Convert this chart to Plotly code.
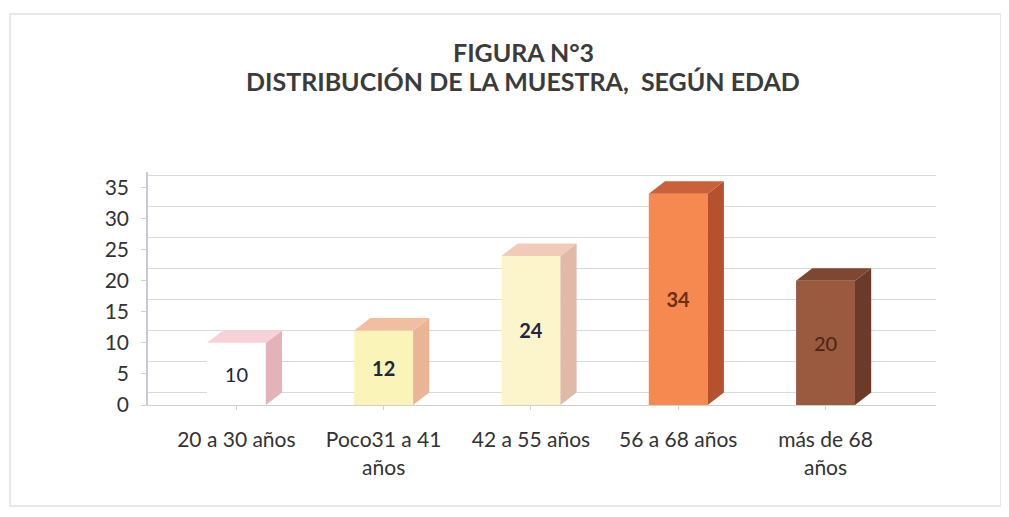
import plotly.graph_objects as go

title_lines = ["FIGURA N°3", "DISTRIBUCIÓN DE LA MUESTRA,  SEGÚN EDAD"]
categories = ["20 a 30 años", "Poco31 a 41 años", "42 a 55 años", "56 a 68 años", "más de 68 años"]
tick_labels = ["20 a 30 años", "Poco31 a 41<br>años", "42 a 55 años", "56 a 68 años", "más de 68<br>años"]
values = [10, 12, 24, 34, 20]
y_ticks = [0, 5, 10, 15, 20, 25, 30, 35]

front_colors = ["#ffffff", "#fbf4b8", "#fcf5cc", "#f5894f", "#9a5a40"]
top_colors = ["#f8d2d8", "#f2bea0", "#f1cbb8", "#c9623a", "#7f4632"]
side_colors = ["#e6b2ba", "#e9b596", "#e0b9a8", "#b5512d", "#6c3a28"]
text_colors = ["#1e2640", "#1e2640", "#1e2640", "#6a2f14", "#4a2414"]
text_tmpl = ["%{y}", "<b>%{y}</b>", "<b>%{y}</b>", "<b>%{y}</b>", "%{y}"]

W, H = 1009, 517
OFF = 8  # page body offset of the rendered figure
ML, MR, MT, MB = 140, 81, 164, 120
xr = [-0.6, 4.75]
yr = [0, 37.5]
bw = 0.4
dx, dy = 0.11, 2.0
grid_shift = 2.0

fig = go.Figure()
# invisible trace to activate the shifted back-wall grid axis
fig.add_trace(go.Scatter(x=[xr[0]], y=[0], yaxis="y2", mode="markers",
                         marker=dict(opacity=0), showlegend=False, hoverinfo="skip"))
fig.add_trace(go.Bar(
    x=list(range(len(categories))), y=values,
    width=bw,
    marker=dict(color=front_colors, line=dict(width=0)),
    texttemplate=text_tmpl, textposition="inside", insidetextanchor="middle",
    textfont=dict(family="Lato", size=20, color=text_colors),
    hovertext=categories, name="",
    showlegend=False,
))

shapes = []
for i, v in enumerate(values):
    xl, xrgt = i - bw / 2, i + bw / 2
    shapes.append(dict(
        type="path", xref="x", yref="y",
        path=f"M {xrgt},0 L {xrgt},{v} L {xrgt+dx},{v+dy} L {xrgt+dx},{dy} Z",
        fillcolor=side_colors[i], line=dict(width=0), layer="above"))
    shapes.append(dict(
        type="path", xref="x", yref="y",
        path=f"M {xl},{v} L {xrgt},{v} L {xrgt+dx},{v+dy} L {xl+dx},{v+dy} Z",
        fillcolor=top_colors[i], line=dict(width=0), layer="above"))

pw, ph = W - ML - MR, H - MT - MB
def px2x(p): return (p - OFF - ML) / pw
def py2y(p): return (H - MB - (p - OFF)) / ph
shapes.append(dict(type="rect", xref="paper", yref="paper",
                   x0=px2x(10), x1=px2x(1001), y0=py2y(506), y1=py2y(14),
                   line=dict(color="#e2e2e2", width=1.5), fillcolor="rgba(0,0,0,0)", layer="below"))

annotations = [
    dict(text=f"<b>{title_lines[0]}</b>", xref="paper", yref="paper", x=px2x(523), y=py2y(52),
         xanchor="center", yanchor="middle", showarrow=False,
         font=dict(family="Lato", size=25, color="#3b3b3b")),
    dict(text=f"<b>{title_lines[1]}</b>", xref="paper", yref="paper", x=px2x(523), y=py2y(81),
         xanchor="center", yanchor="middle", showarrow=False,
         font=dict(family="Lato", size=25, color="#3b3b3b")),
]

fig.update_layout(
    width=W, height=H,
    margin=dict(l=ML, r=MR, t=MT, b=MB),
    paper_bgcolor="#ffffff", plot_bgcolor="#ffffff",
    font=dict(family="Lato", size=21, color="#333333"),
    shapes=shapes,
    annotations=annotations,
    bargap=0.6,
    yaxis2=dict(overlaying="y", range=[yr[0] - grid_shift, yr[1] - grid_shift],
                tickvals=y_ticks, showgrid=True, gridcolor="#d9d9d9", gridwidth=1,
                showticklabels=False, zeroline=False, showline=False, layer="below traces"),
)

fig.update_xaxes(
    range=xr, tickvals=list(range(len(categories))), ticktext=tick_labels,
    showgrid=False, showline=True, linecolor="#d0d0d0", linewidth=1,
    ticks="outside", ticklen=4, tickcolor="#d0d0d0",
    tickfont=dict(family="Lato", size=21, color="#333333"),
    ticklabelstandoff=12,
)
fig.layout.yaxis.update(
    range=yr, tickvals=y_ticks, showgrid=False,
    showline=True, linecolor="#c8c8dc", linewidth=1.5,
    ticks="outside", ticklen=5, tickcolor="#d0d0d0",
    tickfont=dict(family="Lato", size=21, color="#333333"),
    zeroline=False, ticklabelstandoff=8,
)

fig.write_html("out.html")
